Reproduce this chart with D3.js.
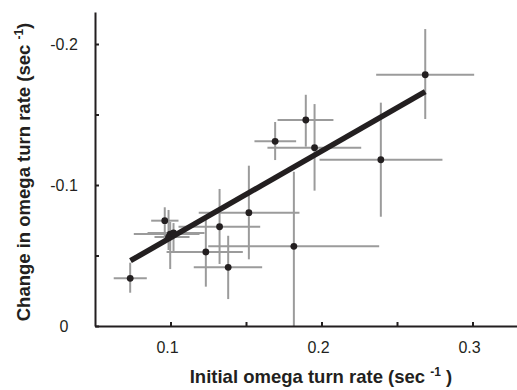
<!DOCTYPE html>
<html>
<head>
<meta charset="utf-8">
<script src="https://cdn.jsdelivr.net/npm/d3@7"></script>
<style>
  body { margin: 0; background: #fff; }
  svg { display: block; font-family: "Liberation Sans", Arial, Helvetica, sans-serif; }
</style>
</head>
<body>
<svg id="chart" width="517" height="390"></svg>
<script>
// initial rate (x), change in rate (y), and their error bar ends
var xVal  = [0.2687, 0.1896, 0.1693, 0.1954, 0.2393, 0.1519, 0.1325, 0.0962, 0.0998, 0.1234, 0.1382, 0.1817, 0.0733, 0.0987, 0.1020];
var xLow  = [0.2362, 0.1709, 0.1556, 0.1642, 0.1987, 0.1187, 0.1053, 0.0872, 0.0757, 0.0974, 0.1154, 0.1250, 0.0624, 0.0894, 0.0848];
var xHigh = [0.3011, 0.2079, 0.1832, 0.2263, 0.2801, 0.1854, 0.1594, 0.1053, 0.1192, 0.1479, 0.1607, 0.2382, 0.0843, 0.1126, 0.1225];
var yVal  = [-0.1782, -0.1461, -0.1310, -0.1265, -0.1179, -0.0804, -0.0704, -0.0747, -0.0652, -0.0525, -0.0416, -0.0565, -0.0338, -0.0631, -0.0660];
var yLow  = [-0.2106, -0.1640, -0.1447, -0.1574, -0.1584, -0.1137, -0.0972, -0.0842, -0.0738, -0.0752, -0.0640, -0.1094, -0.0449, -0.0823, -0.0730];
var yHigh = [-0.1468, -0.1272, -0.1177, -0.0960, -0.0775, -0.0473, -0.0440, -0.0596, -0.0404, -0.0279, -0.0191, 0.0000, -0.0236, -0.0539, -0.0518];

// regression line end points
var fitX = [0.0735, 0.2687];
var fitY = [-0.0463, -0.1663];

var xTicks = [0.1, 0.15, 0.2, 0.25, 0.3];
var xLabels = ["0.1", "0.2", "0.3"];
var yTicks = [0, -0.05, -0.1, -0.15, -0.2];
var yLabels = ["0", "-0.1", "-0.2"];

var svg = d3.select("#chart");
var ink = "#231f20", barColor = "#9b9b9b";

var x = d3.scaleLinear().domain([0.05, 0.33]).range([95, 517.8]);
var y = d3.scaleLinear().domain([0, -0.2227]).range([326, 12]);

var data = xVal.map(function(d, i) {
  return {x: d, xl: xLow[i], xh: xHigh[i], y: yVal[i], yl: yLow[i], yh: yHigh[i]};
});

// error bars
var bars = svg.append("g").attr("stroke", barColor).attr("stroke-width", 2);
bars.selectAll("line.h").data(data).enter().append("line")
  .attr("x1", function(d) { return x(d.xl); })
  .attr("x2", function(d) { return x(d.xh); })
  .attr("y1", function(d) { return y(d.y); })
  .attr("y2", function(d) { return y(d.y); });
bars.selectAll("line.v").data(data).enter().append("line")
  .attr("x1", function(d) { return x(d.x); })
  .attr("x2", function(d) { return x(d.x); })
  .attr("y1", function(d) { return y(d.yl); })
  .attr("y2", function(d) { return y(d.yh); });

// fit line
svg.append("path")
  .datum(fitX.map(function(d, i) { return [d, fitY[i]]; }))
  .attr("fill", "none")
  .attr("stroke", ink)
  .attr("stroke-width", 5.5)
  .attr("d", d3.line().x(function(d) { return x(d[0]); }).y(function(d) { return y(d[1]); }));

// points
svg.append("g").selectAll("circle").data(data).enter().append("circle")
  .attr("cx", function(d) { return x(d.x); })
  .attr("cy", function(d) { return y(d.y); })
  .attr("r", 3.4)
  .attr("fill", ink);

// axes
svg.append("g")
  .attr("transform", "translate(0," + y(0) + ")")
  .call(d3.axisBottom(x).tickValues(xTicks).tickSizeInner(-4).tickSizeOuter(0).tickFormat(""));
svg.append("g")
  .attr("transform", "translate(" + x(0.05) + ",0)")
  .call(d3.axisLeft(y).tickValues(yTicks).tickSizeInner(-4).tickSizeOuter(0).tickFormat(""));
svg.selectAll(".domain, .tick line").attr("stroke", ink).attr("stroke-width", 2);

svg.append("g").selectAll("text").data(xLabels).enter().append("text")
  .attr("x", function(d) { return x(+d) - 3; })
  .attr("y", 353)
  .attr("text-anchor", "middle")
  .attr("font-size", 16)
  .attr("fill", ink)
  .text(function(d) { return d; });

svg.append("g").selectAll("text").data(yLabels).enter().append("text")
  .attr("x", 64)
  .attr("y", function(d) { return y(+d) + 6; })
  .attr("text-anchor", "middle")
  .attr("font-size", 16)
  .attr("fill", ink)
  .text(function(d) { return d; });

// titles
var xt = svg.append("text")
  .attr("x", 321).attr("y", 383)
  .attr("text-anchor", "middle")
  .attr("font-size", 18.5).attr("font-weight", "bold").attr("fill", ink);
xt.append("tspan").text("Initial omega turn rate (sec ");
xt.append("tspan").attr("font-size", 12).attr("dy", -7).text("-1");
xt.append("tspan").attr("dy", 7).text(" )");

var yt = svg.append("text")
  .attr("transform", "translate(30,172) rotate(-90)")
  .attr("text-anchor", "middle")
  .attr("font-size", 18.5).attr("font-weight", "bold").attr("fill", ink);
yt.append("tspan").text("Change in omega turn rate (sec ");
yt.append("tspan").attr("font-size", 12).attr("dy", -7).text("-1");
yt.append("tspan").attr("dy", 7).text(")");
</script>
</body>
</html>
